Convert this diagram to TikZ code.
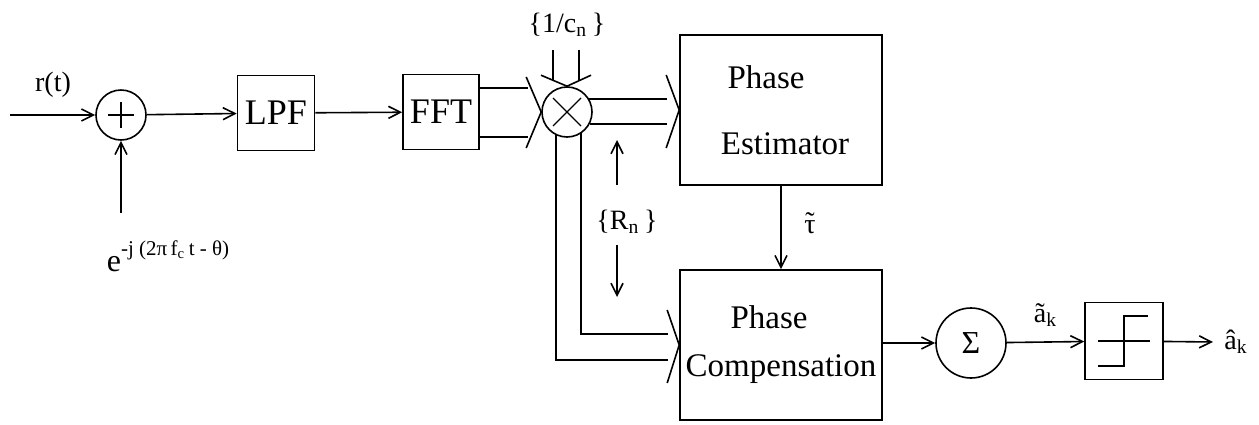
\documentclass[tikz,border=0pt]{standalone}
\usepackage{fontspec}
\setmainfont{Liberation Serif}
\usetikzlibrary{arrows.meta}

\tikzset{
  blk/.style={draw, line width=0.8pt, inner sep=0pt},
  junc/.style={draw, circle, line width=0.8pt, inner sep=0pt},
  sig/.style={line width=0.8pt, -{Straight Barb[length=6pt,width=6pt]}},
  bus/.style={line width=0.8pt},
  glyph/.style={line width=0.6pt},
  big/.style={font=\fontsize{18}{20}\selectfont},
  mid/.style={font=\fontsize{16.5}{18}\selectfont, align=center},
}

\begin{document}
\begin{tikzpicture}[x=0.5pt, y=-0.5pt, font=\fontsize{14}{16}\selectfont]
  \useasboundingbox (0,0) rectangle (1259,424);

  \node[junc, minimum size=25pt] (add) at (121,115) {};
  \node[blk, big, minimum width=38.5pt, minimum height=37.5pt] (lpf) at (276,113) {LPF};
  \node[blk, big, minimum width=38pt, minimum height=37.5pt] (fft) at (441,112) {FFT};
  \node[junc, minimum size=25pt] (mul) at (567,112) {};
  \node[blk, mid, minimum width=101pt, minimum height=75pt] (est) at (781,110) {\hspace*{-15pt}Phase\\[15pt]\hspace*{4pt}Estimator};
  \node[blk, mid, minimum width=101pt, minimum height=75pt] (comp) at (781,345) {\hspace*{-12pt}Phase\\[6pt]Compensation};
  \node[junc, minimum size=35pt, font=\fontsize{16}{18}\selectfont] (sum) at (971,343) {Σ};
  \node[blk, minimum width=39pt, minimum height=38.5pt] (quant) at (1124,341) {};

  \node (rt) at (53,85) {r(t)};
  \node[font=\fontsize{16}{18}\selectfont] (osc) at (168,256) {e\raisebox{1.1ex}{\fontsize{10.5}{12}\selectfont -j (2π\,f\textsubscript{c}\,t - θ)}};
  \node (cn) at (567,25) {\{1/c\textsubscript{n}\,\}};
  \node (rn) at (627,222) {\{R\textsubscript{n}\,\}};

  \coordinate (in) at (10,115);
  \coordinate (lo) at (121,213);
  \coordinate (out) at (1213,342);
  \coordinate (rnup) at (617,140);
  \coordinate (rndn) at (617,297);

  % adder and multiplier marks
  \draw[glyph] (add.center) ++(-13,0) -- ++(26,0) (add.center) ++(0,-13) -- ++(0,26);
  \draw[glyph] (mul.center) ++(-14,-14) -- ++(28,28) (mul.center) ++(-14,14) -- ++(28,-28);

  % quantizer step
  \draw[glyph] (quant.center) ++(-26,0) -- ++(52,0);
  \draw[glyph] (quant.center) ++(-26,25) -- ++(26,0) -- ++(0,-50) -- ++(24,0);

  \draw[sig] (in) -- (add);
  \draw[sig] (lo) -- (add);
  \draw[sig] (add) -- (lpf);
  \draw[sig] (lpf) -- (fft);

  % FFT outputs into multiplier
  \draw[bus] (fft.east |- 0,88) -- (528,88);
  \draw[bus] (fft.east |- 0,137) -- (528,137);
  \draw[bus] (mul.west) -- ++(-15,-35) (mul.west) -- ++(-15,36);

  % weights from above
  \draw[bus] (553,50) -- (553,81);
  \draw[bus] (579,50) -- (579,81);
  \draw[bus] (mul.north) -- ++(-26,-11) (mul.north) -- ++(24,-11);

  % multiplier outputs to estimator
  \draw[bus] (mul.east |- 0,99) ++(-4,0) -- (667,99);
  \draw[bus] (mul.east |- 0,124) ++(-3,0) -- (667,124);
  \draw[bus] (est.west) -- ++(-13,-35) (est.west) -- ++(-13,38);

  % multiplier outputs to compensation
  \draw[bus] (581,133) -- (581,334) -- (668,334);
  \draw[bus] (556,134) -- (556,360) -- (668,360);
  \draw[bus] (comp.west) -- ++(-12,-35) (comp.west) -- ++(-12,38);

  \draw[sig] (rn.north -| rnup) ++(0,-18) -- (rnup);
  \draw[sig] (rn.south -| rndn) ++(0,4) -- (rndn);

  \draw[sig] (est.south) -- node[right=8pt] {\ooalign{τ\cr\hidewidth\raisebox{0.2ex}{˜}\hidewidth\cr}} (comp.north);
  \draw[sig] (comp.east |- sum.west) -- (sum.west);
  \draw[sig] (sum) -- node[above=4pt] {ã\textsubscript{k}} (quant);
  \draw[sig] (quant) -- (out) node[right=2pt] {â\textsubscript{k}};
\end{tikzpicture}
\end{document}
